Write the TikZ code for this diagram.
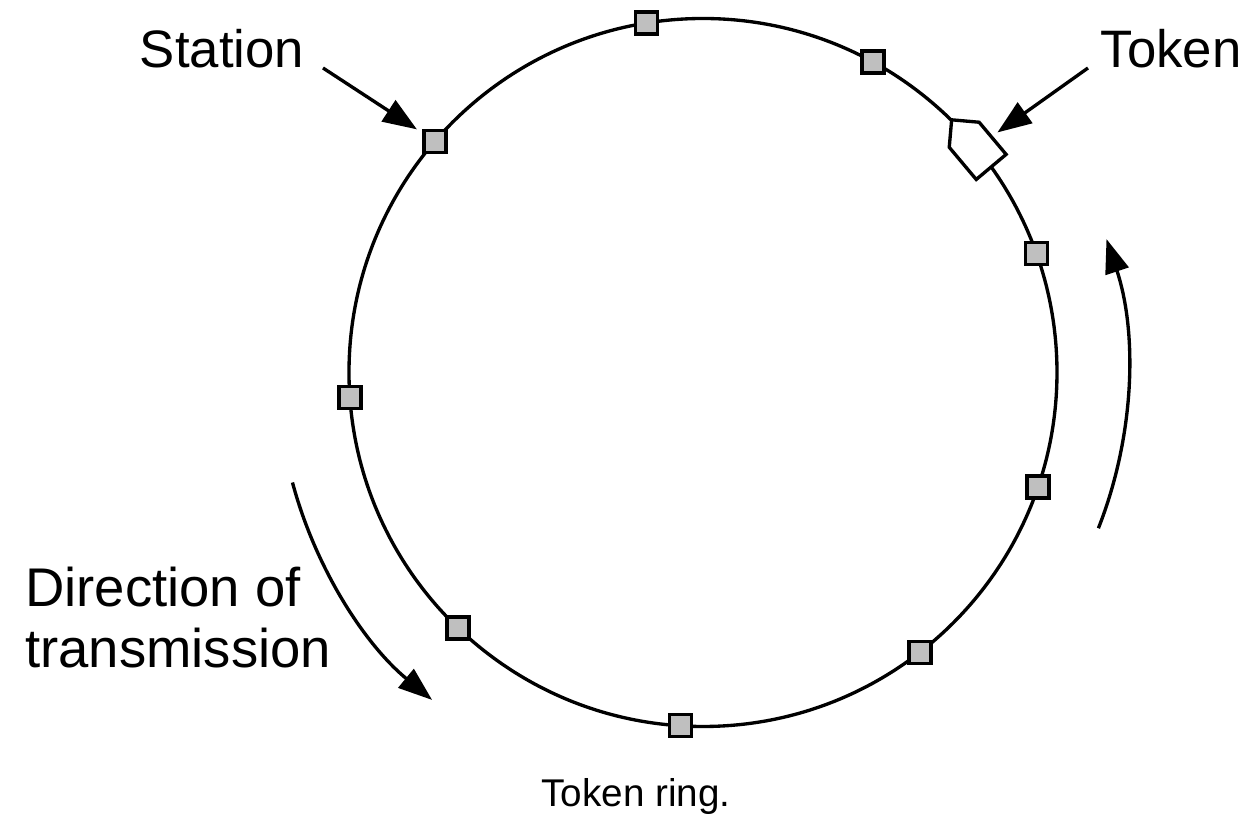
\documentclass[tikz,border=0pt]{standalone}
\usepackage{fontspec}
\setmainfont{Liberation Sans}
\usetikzlibrary{arrows.meta,calc}

\begin{document}
\begin{tikzpicture}[
    ring/.style={line width=1.9pt},
    station/.style={rectangle, draw, line width=1.9pt, fill=black!25, minimum size=0.44cm, inner sep=0pt},
    tokenbox/.style={draw, fill=white, line width=1.9pt, line join=miter},
    label/.style={font=\fontsize{30}{35}\selectfont, inner sep=0pt},
    pointer/.style={-{Triangle[length=0.68cm,width=0.5cm]}, line width=1.9pt},
    flow/.style={-{Triangle[length=0.68cm,width=0.48cm]}, line width=1.9pt}
]
\useasboundingbox (-14.06,-8.93) rectangle (11.10,7.45);

\coordinate (c) at (0,0);
\draw[ring] (c) circle (7.08);

\node[station] (st1) at (99.2:7.08) {};
\node[station] (st2) at (61.3:7.08) {};
\node[station] (st3) at (139.2:7.08) {};
\node[station] (st4) at (19.6:7.08) {};
\node[station] (st5) at (184:7.08) {};
\node[station] (st6) at (-18.9:7.08) {};
\node[station] (st7) at (226.2:7.08) {};
\node[station] (st8) at (-52.2:7.08) {};
\node[station] (st9) at (266.4:7.08) {};

\coordinate (tokbase) at (35.5:7.08);
\begin{scope}[shift={(tokbase)}, rotate=130]
\draw[tokenbox] (0,-0.39) -- (0.84,-0.39) -- (1.23,0) -- (0.84,0.39) -- (0,0.39) -- cycle;
\coordinate (tokpt) at (0.46,-0.39);
\end{scope}

\node[label, anchor=base] (stlab) at (-9.62,6.09) {Station};
\node[label, anchor=base] (toklab) at (9.36,6.09) {Token};
\coordinate (stfrom) at (-7.6,6.09);
\coordinate (tokfrom) at (7.7,6.09);
\draw[pointer, shorten >=0.13cm] (stfrom) -- (st3);
\draw[pointer, shorten >=0.15cm] (tokfrom) -- (tokpt);

\node[label, font=\fontsize{31}{35}\selectfont, align=left, anchor=base west] (dirlab) at (-13.56,-5.91) {Direction of\\transmission};

\coordinate (lfrom) at (195:8.5);
\coordinate (rfrom) at (-21.5:8.5);
\draw[flow] (lfrom) arc[start angle=195, end angle=230.4, radius=8.5];
\draw[flow] (rfrom) arc[start angle=-21.5, end angle=18.3, radius=8.5];

\node[font=\fontsize{22}{26}\selectfont, anchor=base, inner sep=0pt] (cap) at (-1.34,-8.69) {Token ring.};

\end{tikzpicture}
\end{document}
